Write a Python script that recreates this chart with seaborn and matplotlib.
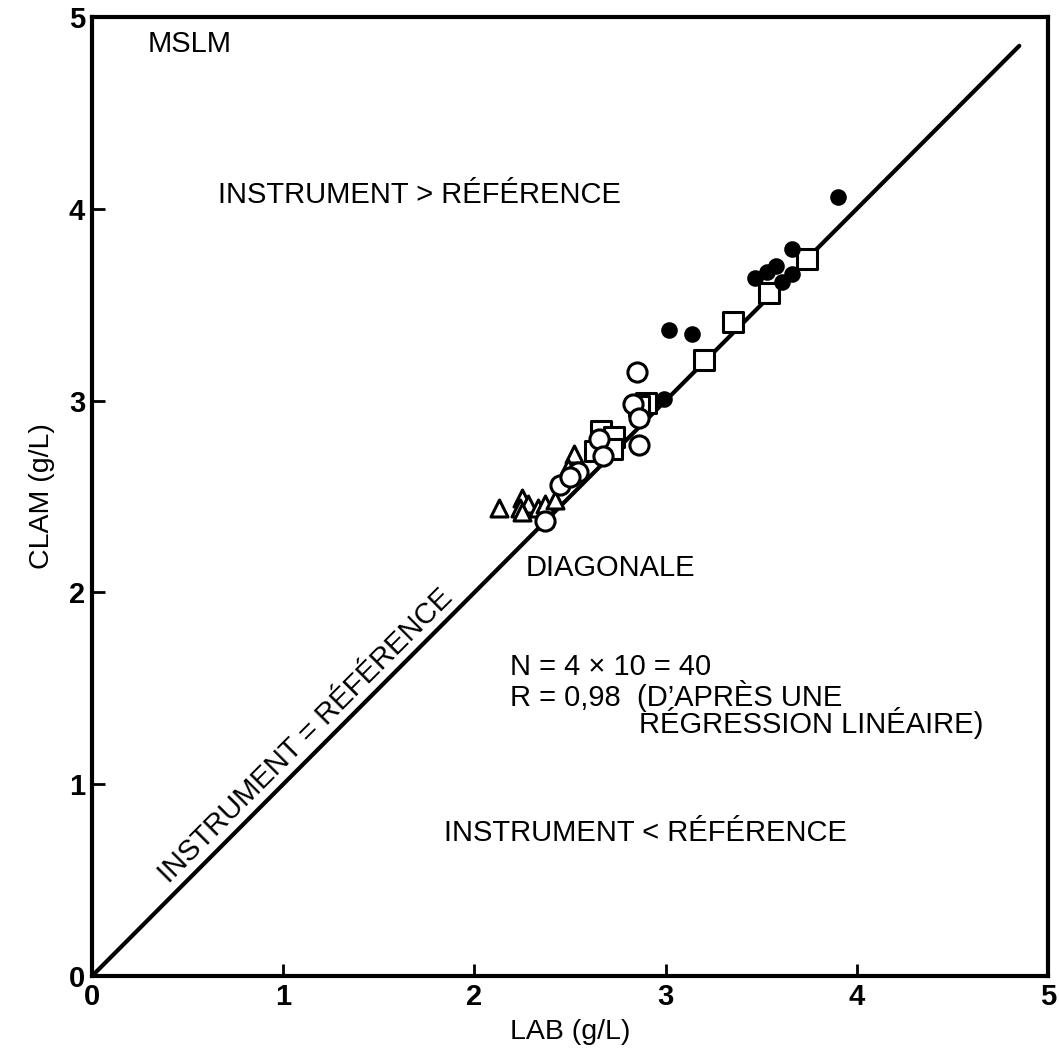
import matplotlib
matplotlib.use("Agg")
import matplotlib.pyplot as plt
import seaborn as sns
import pandas as pd

# Four series of ten paired measurements (LAB reference vs CLAM instrument), g/L
filled_lab = [3.90, 3.66, 3.58, 3.53, 3.47, 3.66, 3.61, 3.02, 3.14, 2.99]
filled_clam = [4.06, 3.79, 3.70, 3.67, 3.64, 3.66, 3.62, 3.37, 3.35, 3.01]

square_lab = [3.74, 3.54, 3.35, 3.20, 2.90, 2.66, 2.73, 2.63, 2.72, 2.86]
square_clam = [3.74, 3.56, 3.41, 3.21, 2.99, 2.84, 2.81, 2.74, 2.75, 2.97]

circle_lab = [2.85, 2.83, 2.86, 2.86, 2.65, 2.67, 2.54, 2.45, 2.37, 2.50]
circle_clam = [3.15, 2.98, 2.91, 2.77, 2.80, 2.71, 2.63, 2.56, 2.37, 2.60]

triangle_lab = [2.13, 2.52, 2.49, 2.25, 2.28, 2.24, 2.33, 2.37, 2.25, 2.42]
triangle_clam = [2.44, 2.72, 2.65, 2.49, 2.46, 2.44, 2.44, 2.46, 2.42, 2.48]

diag = [0.0, 4.85]
ticks = [0, 1, 2, 3, 4, 5]

sns.set_theme(style="white")
plt.rcParams["font.family"] = ["Liberation Sans", "DejaVu Sans"]
plt.rcParams.update({"text.color": "black", "axes.labelcolor": "black",
                     "xtick.color": "black", "ytick.color": "black"})

fig = plt.figure(figsize=(10.59, 10.52), dpi=100)
ax = fig.add_axes([0.0869, 0.0722, 0.9027, 0.9116])

sns.lineplot(x=diag, y=diag, ax=ax, color="black", lw=3, zorder=1)

def draw(xs, ys, marker, size, face, z):
    df = pd.DataFrame({"x": xs, "y": ys})
    sns.scatterplot(data=df, x="x", y="y", ax=ax, marker=marker, s=size,
                    facecolor=face, edgecolor="black", linewidth=2.2, zorder=z)

draw(triangle_lab, triangle_clam, "^", 150, "white", 3)
draw(square_lab, square_clam, "s", 190, "white", 4)
draw(circle_lab, circle_clam, "o", 190, "white", 5)
draw(filled_lab, filled_clam, "o", 95, "black", 6)

ax.set_xlim(0, 5)
ax.set_ylim(0, 5)
ax.set_xticks(ticks)
ax.set_yticks(ticks)
ax.set_xticklabels([str(t) for t in ticks], fontsize=21, fontweight="bold")
ax.set_yticklabels([str(t) for t in ticks], fontsize=21, fontweight="bold")
ax.tick_params(direction="in", length=9, width=2, color="black", pad=5,
               left=True, bottom=True)
for sp in ax.spines.values():
    sp.set_linewidth(3)
    sp.set_color("black")

ax.set_xlabel("LAB (g/L)", fontsize=20.5, labelpad=6)
ax.set_ylabel("CLAM (g/L)", fontsize=20.5, labelpad=10)

fs = 21
ax.text(0.29, 4.86, "MSLM", fontsize=fs, ha="left", va="center")
ax.text(1.715, 4.07, "INSTRUMENT > RÉFÉRENCE", fontsize=fs, ha="center", va="center")
ax.text(2.71, 2.13, "DIAGONALE", fontsize=fs, ha="center", va="center")
ax.text(2.185, 1.61, "N = 4 × 10 = 40", fontsize=fs, ha="left", va="center")
ax.text(2.185, 1.46, "R = 0,98  (D’APRÈS UNE", fontsize=fs, ha="left", va="center")
ax.text(2.86, 1.32, "RÉGRESSION LINÉAIRE)", fontsize=fs, ha="left", va="center")
ax.text(2.895, 0.745, "INSTRUMENT < RÉFÉRENCE", fontsize=fs, ha="center", va="center")
ax.text(1.12, 1.25, "INSTRUMENT = RÉFÉRENCE", fontsize=fs, ha="center", va="center",
        rotation=45, rotation_mode="anchor")

fig.savefig("out.png", dpi=100)
